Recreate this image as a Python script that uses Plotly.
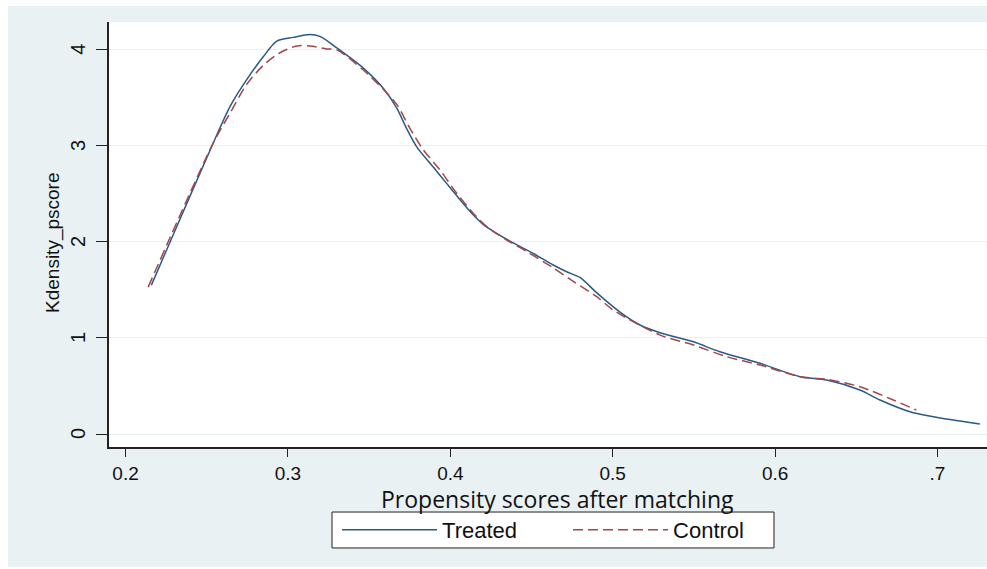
import plotly.graph_objects as go

# ---- data ----
treated_x = [0.2159, 0.2274, 0.2540, 0.2643, 0.2746, 0.2849, 0.2931, 0.3033, 0.3136, 0.3197,
             0.3301, 0.3464, 0.3587, 0.3671, 0.3728, 0.3793, 0.3895, 0.3977, 0.4060, 0.4142,
             0.4204, 0.4285, 0.4387, 0.4511, 0.4634, 0.4716, 0.4798, 0.4902, 0.5045, 0.5168,
             0.5292, 0.5497, 0.5660, 0.5907, 0.6154, 0.6318, 0.6522, 0.6646, 0.6830, 0.6974, 0.7261]
treated_y = [1.55, 2.00, 3.03, 3.41, 3.69, 3.93, 4.09, 4.13, 4.16, 4.14,
             4.02, 3.81, 3.60, 3.39, 3.19, 2.99, 2.78, 2.61, 2.44, 2.28,
             2.18, 2.09, 1.99, 1.88, 1.76, 1.69, 1.63, 1.47, 1.27, 1.135,
             1.055, 0.96, 0.857, 0.736, 0.597, 0.5625, 0.458, 0.354, 0.232, 0.18, 0.104]

control_x = [0.2139, 0.2540, 0.2643, 0.2746, 0.2849, 0.2951, 0.3054, 0.3136, 0.3238, 0.3301,
             0.3464, 0.3587, 0.3671, 0.3752, 0.3833, 0.3936, 0.4038, 0.4162, 0.4224, 0.4347,
             0.4470, 0.4634, 0.4757, 0.4902, 0.5004, 0.5292, 0.5497, 0.5701, 0.5907, 0.6154,
             0.6318, 0.6522, 0.6728, 0.6870]
control_y = [1.53, 3.03, 3.34, 3.64, 3.84, 3.97, 4.04, 4.04, 4.01, 4.00,
             3.79, 3.59, 3.43, 3.18, 2.96, 2.75, 2.51, 2.26, 2.16, 2.02,
             1.90, 1.73, 1.59, 1.43, 1.29, 1.03, 0.927, 0.806, 0.719, 0.597,
             0.57, 0.493, 0.354, 0.25]

x_ticks = [0.2, 0.3, 0.4, 0.5, 0.6, 0.7]
x_ticklabels = ["0.2", "0.3", "0.4", "0.5", "0.6", ".7"]
y_ticks = [0, 1, 2, 3, 4]
y_ticklabels = ["0", "1", "2", "3", "4"]
x_title = "Propensity scores after matching"
y_title = "Kdensity_pscore"

BG = "#eaf1f3"
TXT = "#111111"

fig = go.Figure()
fig.add_trace(go.Scatter(x=treated_x, y=treated_y, mode="lines", name="Treated",
                         legend="legend",
                         line=dict(color="#2a5a86", width=1.5, shape="spline", smoothing=0.8)))
fig.add_trace(go.Scatter(x=control_x, y=control_y, mode="lines", name="Control",
                         legend="legend2",
                         line=dict(color="#a34549", width=1.5, dash="10px,5px",
                                   shape="spline", smoothing=0.8)))

# outer light background (around the white plot region)
strips = [(-0.115, 0.0, -0.282, 1.0376), (0.0, 1.0, 1.0, 1.0376), (0.0, 1.0, -0.282, 0.0)]
for x0, x1, y0, y1 in strips:
    fig.add_shape(type="rect", xref="paper", yref="paper", x0=x0, x1=x1, y0=y0, y1=y1,
                  fillcolor=BG, line=dict(width=0), layer="below")
# legend frame
fig.add_shape(type="rect", xref="paper", yref="paper", x0=0.2540, x1=0.7574, y0=-0.2376, y1=-0.153,
              fillcolor="white", line=dict(color="#222", width=1), layer="below")

# rotated y tick labels (Stata style), placed on the y scale
for v, lab in zip(y_ticks, y_ticklabels):
    fig.add_annotation(text=lab, xref="paper", yref="y", x=-0.0353, y=v,
                       xanchor="center", yanchor="middle", textangle=-90, showarrow=False,
                       font=dict(size=20, family="Liberation Sans, Arial, sans-serif", color=TXT))

# axis titles
fig.add_annotation(text=y_title, xref="paper", yref="paper", x=-0.0638, y=0.48,
                   xanchor="center", yanchor="middle", textangle=-90, showarrow=False,
                   font=dict(size=19, family="Liberation Sans, Arial, sans-serif", color=TXT))
fig.add_annotation(text=x_title, xref="paper", yref="paper", x=0.511, y=-0.123,
                   xanchor="center", yanchor="middle", showarrow=False,
                   font=dict(size=23, family="Open Sans, sans-serif", color=TXT))

leg_common = dict(orientation="h", yanchor="top", y=-0.146, xanchor="left",
                  bgcolor="rgba(0,0,0,0)", borderwidth=0,
                  font=dict(size=22, family="Liberation Sans, Arial, sans-serif"),
                  itemwidth=95)

fig.update_layout(
    width=987, height=569,
    margin=dict(l=109, r=0, t=22, b=122),
    paper_bgcolor="white", plot_bgcolor="white",
    font=dict(family="Liberation Sans, Arial, sans-serif", color=TXT),
    xaxis=dict(range=[0.1898, 0.7305], tickvals=x_ticks, ticktext=x_ticklabels,
               showgrid=False, zeroline=False, showline=True, linecolor="#222", linewidth=1.5,
               ticks="outside", ticklen=8, tickcolor="#222", tickwidth=1.2,
               tickfont=dict(size=19, family="Liberation Sans, Arial, sans-serif")),
    yaxis=dict(range=[-0.135, 4.29], tickvals=y_ticks, showticklabels=False,
               showgrid=True, gridcolor="#e8f0f2", gridwidth=1, zeroline=False,
               showline=True, linecolor="#222", linewidth=1.5,
               ticks="outside", ticklen=11, tickcolor="#222", tickwidth=1.2),
    showlegend=True,
    legend=dict(x=0.2597, **leg_common),
    legend2=dict(x=0.5228, **leg_common),
)

fig.write_html("out.html")
